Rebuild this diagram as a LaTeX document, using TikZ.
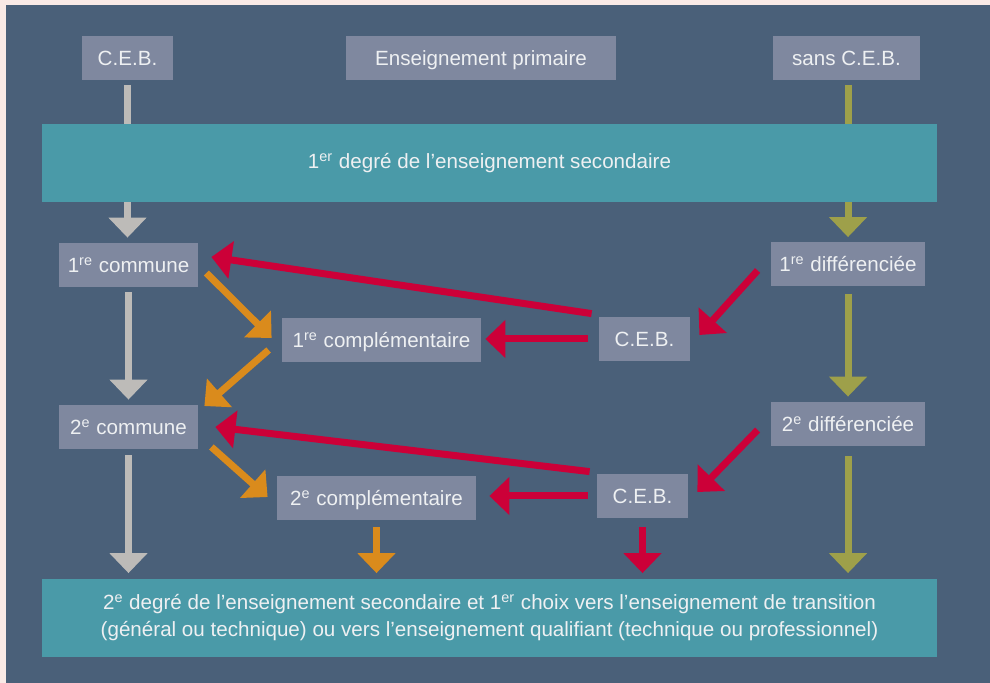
\documentclass[tikz,border=0pt]{standalone}
\usepackage{fontspec}
\setmainfont{Liberation Sans}
\usetikzlibrary{arrows.meta,calc}

\definecolor{pinkbg}{HTML}{F9EAE6}
\definecolor{panel}{HTML}{4A6079}
\definecolor{boxgray}{HTML}{7F889F}
\definecolor{bandteal}{HTML}{4A9AA8}
\definecolor{txt}{HTML}{EEF0F2}
\definecolor{arrgray}{HTML}{BDBBB8}
\definecolor{arrolive}{HTML}{9EA04A}
\definecolor{arrorange}{HTML}{DA8B1C}
\definecolor{arrred}{HTML}{CC0038}

\pgfdeclarelayer{bg}
\pgfdeclarelayer{arr}
\pgfsetlayers{bg,arr,main}

\begin{document}
\begin{tikzpicture}[x=0.5pt,y=-0.5pt] %[scale=.6,transform shape]
\tikzstyle{box}=[fill=boxgray,text=txt,inner sep=0pt,minimum height=22pt,text height=8pt,text depth=0.5pt,font=\fontsize{10.3}{12}\selectfont]
\tikzstyle{band}=[fill=bandteal,text=txt,inner sep=0pt,minimum width=447.5pt,minimum height=39pt,align=center,font=\fontsize{10.3}{13.5}\selectfont]
\tikzstyle{blk}=[line width=3.5pt,-{Triangle[width=18.5pt,length=10pt]}]

 \useasboundingbox (0,0) rectangle (990,683);
 \begin{pgfonlayer}{bg}
  \fill[pinkbg] (0,0) rectangle (990,683);
  \fill[panel] (6,5) rectangle (990,683);
 \end{pgfonlayer}

 \node[box,minimum width=45.5pt] (ceb0) at (127.5,58.5) {C.E.B.};
 \node[box,minimum width=135pt] (prim) at (481,58.5) {Enseignement primaire};
 \node[box,minimum width=73.5pt] (sans) at (846.5,58.5) {sans C.E.B.};
 \node[band] (deg1) at (489.5,163) {1\textsuperscript{er} degré de l’enseignement secondaire};

 \node[box,minimum width=69.5pt] (com1) at (128.5,265) {1\textsuperscript{re} commune};
 \node[box,minimum width=77pt] (dif1) at (848,264.5) {1\textsuperscript{re} différenciée};
 \node[box,minimum width=99.5pt] (cpl1) at (381.5,340) {1\textsuperscript{re} complémentaire};
 \node[box,minimum width=45.5pt] (ceb1) at (644.5,339) {C.E.B.};

 \node[box,minimum width=69.5pt] (com2) at (128.5,427) {2\textsuperscript{e} commune};
 \node[box,minimum width=77pt] (dif2) at (848,424) {2\textsuperscript{e} différenciée};
 \node[box,minimum width=99.5pt] (cpl2) at (376.5,498) {2\textsuperscript{e} complémentaire};
 \node[box,minimum width=45.5pt] (ceb2) at (642.5,496) {C.E.B.};

 \node[band] (deg2) at (489.5,617.5) {2\textsuperscript{e} degré de l’enseignement secondaire et 1\textsuperscript{er} choix vers l’enseignement de transition\\(général ou technique) ou vers l’enseignement qualifiant (technique ou professionnel)};

 \begin{pgfonlayer}{arr}
  % avec C.E.B.
  \draw[blk,arrgray,shorten <=2pt,shorten >=2.5pt] (ceb0.south) -- (ceb0.south |- com1.north);
  \draw[blk,arrgray,shorten <=2.5pt,shorten >=2.5pt] (com1.south) -- (com2.north);
  \draw[blk,arrgray,shorten <=3pt,shorten >=2.5pt] (com2.south) -- (com2.south |- deg2.north);
  % sans C.E.B.
  \draw[blk,arrolive,shorten <=2pt,shorten >=2.5pt] (sans.south -| dif1.north) -- (dif1.north);
  \draw[blk,arrolive,shorten <=3.5pt,shorten >=2.5pt] (dif1.south) -- (dif2.north);
  \draw[blk,arrolive,shorten <=5pt,shorten >=2.5pt] (dif2.south) -- (dif2.south |- deg2.north);
  % complementaire
  \draw[blk,arrorange] ($(com1.east)+(8,8)$) -- ($(cpl1.west)+(-10,-2)$);
  \draw[blk,arrorange] ($(cpl1.west)+(-13,10)$) -- ($(com2.east)+(6,-21)$);
  \draw[blk,arrorange] ($(com2.east)+(13,20)$) -- ($(cpl2.west)+(-9,-1)$);
  \draw[blk,arrorange,shorten <=3.5pt,shorten >=2.5pt] (cpl2.south) -- (cpl2.south |- deg2.north);
  % C.E.B. en cours
  \draw[blk,arrred] ($(dif1.west)+(-13,6)$) -- ($(ceb1.east)+(9,-4)$);
  \draw[blk,arrred] ($(ceb1.north west)+(-7,-3)$) -- ($(com1.east)+(13,-8)$);
  \draw[blk,arrred,shorten <=5.5pt,shorten >=2pt] (ceb1.west) -- (ceb1.west -| cpl1.east);
  \draw[blk,arrred] ($(dif2.west)+(-13,6)$) -- ($(ceb2.east)+(9,-4)$);
  \draw[blk,arrred] ($(ceb2.north west)+(-7,-2)$) -- ($(com2.east)+(17,0)$);
  \draw[blk,arrred,shorten <=4.5pt,shorten >=6.5pt] (ceb2.west) -- (ceb2.west -| cpl2.east);
  \draw[blk,arrred,shorten <=4.5pt,shorten >=2.5pt] (ceb2.south) -- (ceb2.south |- deg2.north);
 \end{pgfonlayer}
\end{tikzpicture}
\end{document}
